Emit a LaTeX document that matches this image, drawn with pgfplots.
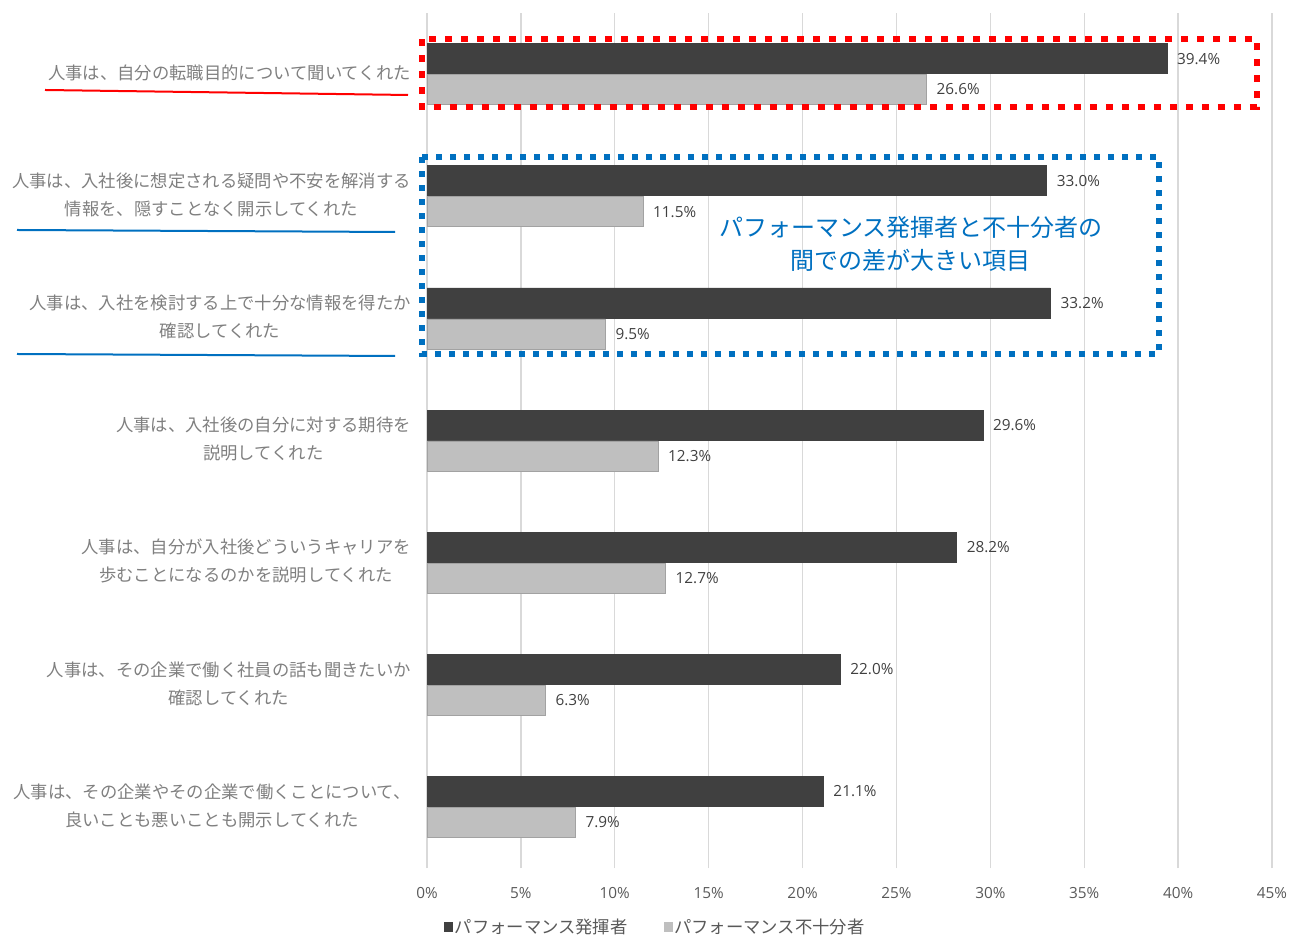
\documentclass[border=0pt]{standalone}
\usepackage{fontspec}
\setmainfont{Noto Sans CJK JP}
\newfontfamily\numfont{Open Sans}
\usepackage{pgfplots}
\pgfplotsset{compat=1.18}
\definecolor{darkbar}{HTML}{404040}
\definecolor{lightbar}{HTML}{BFBFBF}
\definecolor{gridc}{HTML}{D9D9D9}
\definecolor{tickc}{HTML}{595959}
\definecolor{catc}{HTML}{7F7F7F}
\definecolor{annblue}{HTML}{0070C0}
\definecolor{annred}{HTML}{FF0000}
\begin{document}
\begin{tikzpicture}
\path[use as bounding box] (0,0) rectangle (968.25pt,701.25pt);
\begin{axis}[
  at={(320.25pt,50.25pt)}, anchor=south west,
  scale only axis, width=633.75pt, height=641.25pt,
  xmin=0, xmax=45, ymin=-0.5, ymax=6.5,
  xbar, bar width=22.5pt,
  clip=false,
  /pgf/number format/assume math mode=true,
  axis line style={draw=none},
  major tick length=0pt,
  xmajorgrids, grid style={gridc, line width=1pt},
  xtick={0,5,...,45},
  xticklabel={\pgfmathprintnumber{\tick}\%},
  xticklabel style={font=\numfont\fontsize{11.5}{13}\selectfont, text=tickc, anchor=north, yshift=-11pt},
  ytick={0,...,6},
  yticklabels={
    {人事は、その企業やその企業で働くことについて、\\良いことも悪いことも開示してくれた},
    {人事は、その企業で働く社員の話も聞きたいか\\確認してくれた},
    {人事は、自分が入社後どういうキャリアを\\歩むことになるのかを説明してくれた},
    {人事は、入社後の自分に対する期待を\\説明してくれた},
    {人事は、入社を検討する上で十分な情報を得たか\\確認してくれた},
    {人事は、入社後に想定される疑問や不安を解消する\\情報を、隠すことなく開示してくれた},
    {人事は、自分の転職目的について聞いてくれた}
  },
  yticklabel style={font=\fontsize{13}{21}\selectfont, text=catc, align=center, anchor=east, inner sep=0pt, xshift=-12pt, yshift=1pt},
  point meta=x,
  nodes near coords={\pgfmathprintnumber[fixed,fixed zerofill,precision=1]{\pgfplotspointmeta}\%},
  every node near coord/.append style={anchor=west, inner sep=0pt, xshift=7.5pt, font=\numfont\fontsize{11.5}{13}\selectfont, text=darkbar},
  legend columns=2,
  legend style={at={(0.0154,-0.069)}, anchor=west, draw=none, fill=none,
    font=\fontsize{13}{15}\selectfont, text=tickc,
    /tikz/every even column/.append style={column sep=26pt},
    nodes={inner sep=1pt}},
  legend image code/.code={\fill[#1,draw=none] (0pt,-3.4pt) rectangle (6.8pt,3.4pt);},
]
\addplot+[bar shift=11.6pt, fill=darkbar, draw=darkbar] coordinates {
  (21.1,0) (22.0,1) (28.2,2) (29.6,3) (33.2,4) (33.0,5) (39.4,6)};
\addplot+[bar shift=-11.6pt, fill=lightbar, draw=lightbar!85!black, line width=0.3pt] coordinates {
  (7.9,0) (6.3,1) (12.7,2) (12.3,3) (9.5,4) (11.5,5) (26.6,6)};
\legend{パフォーマンス発揮者, パフォーマンス不十分者}
\draw[annred, line width=5pt, dash pattern=on 5.5pt off 6.5pt] (axis cs:-0.27,6.287) rectangle (axis cs:44.2,5.730);
\draw[annblue, line width=4.5pt, dash pattern=on 4.5pt off 6pt] (axis cs:-0.27,5.321) rectangle (axis cs:38.98,3.708);
\node[annblue, align=center, font=\fontsize{18}{24.75}\selectfont] at (axis cs:25.77,4.609) {パフォーマンス発揮者と不十分者の\\間での差が大きい項目};
\end{axis}
\draw[annred, line width=1.5pt] (33.75pt,633.75pt) -- (306pt,630pt);
\draw[annblue, line width=1.5pt] (12.75pt,528.75pt) -- (296.25pt,527.25pt);
\draw[annblue, line width=1.5pt] (12.75pt,435.75pt) -- (296.25pt,434.25pt);
\end{tikzpicture}
\end{document}
